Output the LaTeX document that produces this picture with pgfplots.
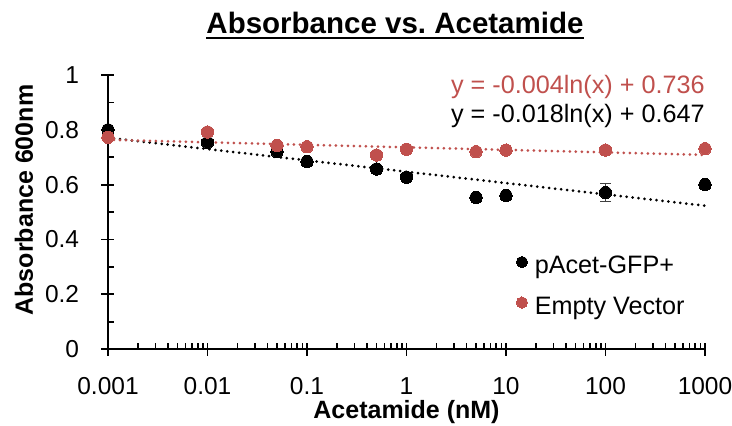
\documentclass[border=0pt]{standalone}
\usepackage{fontspec}
\setmainfont{Liberation Sans}
\usepackage{pgfplots}
\pgfplotsset{compat=1.18}
\definecolor{exred}{HTML}{C0504D}
\frenchspacing
\begin{document}
\begin{tikzpicture}
\path[use as bounding box] (-54pt,-38pt) rectangle (312pt,174.5pt);
\begin{axis}[
  at={(0pt,0pt)}, anchor=south west,
  scale only axis, width=298.5pt, height=137pt,
  xmode=log, log basis x=10,
  xmin=0.001, xmax=1000, ymin=0, ymax=1,
  axis x line=bottom, axis y line=left,
  axis line style={-, black, line width=0.9pt},
  xtick={0.001,0.01,0.1,1,10,100,1000},
  xticklabels={0.001,0.01,0.1,1,10,100,1000},
  minor xtick={0.002,0.003,0.004,0.005,0.006,0.007,0.008,0.009,
    0.02,0.03,0.04,0.05,0.06,0.07,0.08,0.09,
    0.2,0.3,0.4,0.5,0.6,0.7,0.8,0.9,
    2,3,4,5,6,7,8,9,
    20,30,40,50,60,70,80,90,
    200,300,400,500,600,700,800,900},
  ytick={0,0.2,0.4,0.6,0.8,1},
  yticklabels={0,0.2,0.4,0.6,0.8,1},
  minor ytick={0.1,0.3,0.5,0.7,0.9},
  tick align=center,
  major tick length=6.5pt, minor tick length=2.8pt,
  tick style={black, line width=0.9pt},
  minor x tick style={yshift=1.4pt},
  minor y tick style={xshift=1.4pt},
  ticklabel style={font=\fontsize{12.25}{14}\selectfont, inner sep=0pt},
  xticklabel style={anchor=base, yshift=-19.5pt},
  yticklabel style={anchor=east, xshift=-11pt},
  clip=false,
  legend cell align=left,
  legend style={draw=none, fill=none, inner sep=0pt, outer sep=0pt,
    at={(0.684,0.3599)}, anchor=north west, row sep=8.65pt,
    font=\fontsize{12.6}{14}\selectfont,
    nodes={inner sep=0pt, text height=11.6pt, text depth=0pt},
    /tikz/every odd column/.append style={column sep=3.6pt}},
  legend image code/.code={\draw[#1, mark size=2.8pt] plot coordinates {(2.8pt,0pt)};},
]
\addplot[forget plot, black!75, mark=none,
  error bars/.cd, y dir=both, y explicit,
  error bar style={line width=0.9pt, black!75},
  error mark options={rotate=90, mark size=2.75pt, line width=0.9pt, black!75}]
  coordinates {(100,0.571) +- (0,0.033)};
\addplot[only marks, mark=*, mark size=3.1pt,
  mark options={draw=black, fill=black, line width=0pt}]
  coordinates {(0.001,0.800) (0.01,0.754) (0.05,0.720) (0.1,0.684) (0.5,0.657)
    (1,0.627) (5,0.553) (10,0.560) (100,0.571) (1000,0.600)};
\addlegendentry{pAcet-GFP+}
\addplot[only marks, mark=*, mark size=3.1pt,
  mark options={draw=exred, fill=exred, line width=0pt}]
  coordinates {(0.001,0.773) (0.01,0.792) (0.05,0.743) (0.1,0.738) (0.5,0.708)
    (1,0.729) (5,0.720) (10,0.726) (100,0.726) (1000,0.731)};
\addlegendentry{Empty Vector}
\addplot[forget plot, black, line width=1.5pt, line cap=round, dash pattern=on 0pt off 3pt]
  coordinates {(0.001,0.771) (1000,0.523)};
\addplot[forget plot, exred, line width=1.5pt, line cap=round, dash pattern=on 0pt off 3pt]
  coordinates {(0.001,0.7636) (1000,0.7084)};
\end{axis}
\node[font=\fontsize{14.75}{17}\selectfont\bfseries, inner sep=0pt, anchor=base] (T)
  at (143.5pt,158pt) {Absorbance vs. Acetamide};
\draw[line width=1pt] ([yshift=-2.25pt]T.base west) -- ([yshift=-2.25pt]T.base east);
\node[font=\fontsize{12.5}{15}\selectfont\bfseries, inner sep=0pt, anchor=base]
  at (149.25pt,-34.5pt) {Acetamide (nM)};
\node[font=\fontsize{12.5}{15}\selectfont\bfseries, inner sep=0pt, anchor=base, rotate=90]
  at (-37.5pt,74.5pt) {Absorbance 600nm};
\node[font=\fontsize{12.6}{15}\selectfont, text=exred, inner sep=0pt, anchor=base east]
  at (298.5pt,127.75pt) {y = -0.004ln(x) + 0.736};
\node[font=\fontsize{12.6}{15}\selectfont, text=black, inner sep=0pt, anchor=base east]
  at (298.5pt,113.2pt) {y = -0.018ln(x) + 0.647};
\end{tikzpicture}
\end{document}
